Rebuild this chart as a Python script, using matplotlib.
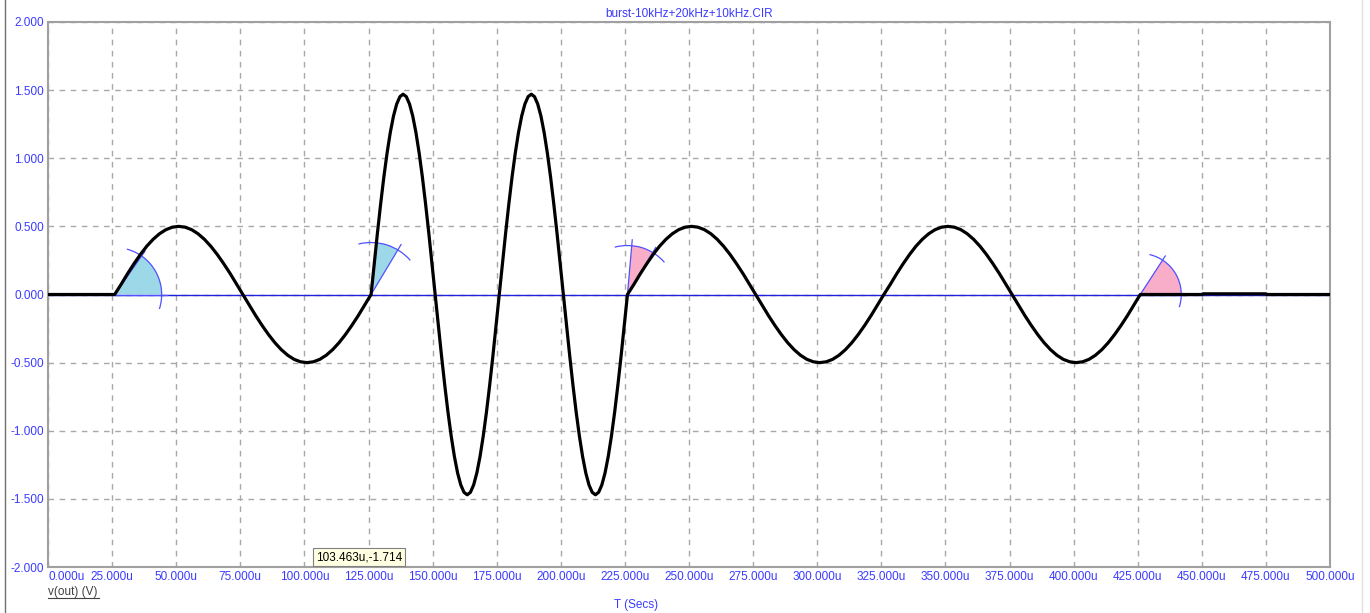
import numpy as np
import matplotlib.pyplot as plt
from matplotlib.patches import Wedge, Arc
from matplotlib.lines import Line2D
from matplotlib.transforms import ScaledTranslation

plt.rcParams['font.family'] = ['Liberation Sans', 'DejaVu Sans']

# one period of the 10kHz part (2.5u steps)
p10k = [0, 0.074, 0.152, 0.225, 0.293, 0.354, 0.405, 0.446, 0.476, 0.494,
        0.5, 0.494, 0.476, 0.446, 0.405, 0.354, 0.294, 0.227, 0.155, 0.078,
        0, -0.078, -0.155, -0.227, -0.294, -0.354, -0.405, -0.446, -0.476, -0.494,
        -0.5, -0.494, -0.476, -0.446, -0.405, -0.354, -0.294, -0.227, -0.155, -0.078]
# one period of the 20kHz part (1.25u steps)
p20k = [0, 0.230, 0.454, 0.667, 0.864, 1.039, 1.189, 1.310, 1.398, 1.452,
        1.47, 1.452, 1.398, 1.310, 1.189, 1.039, 0.864, 0.667, 0.454, 0.230,
        0, -0.230, -0.454, -0.667, -0.864, -1.039, -1.189, -1.310, -1.398, -1.452,
        -1.47, -1.452, -1.398, -1.310, -1.189, -1.039, -0.864, -0.667, -0.454, -0.230]
tail_t = [426, 450, 450.5, 475, 475.5, 500]
tail_v = [0, 0, 0.005, 0.005, 0, 0]

# angle markers: time (u), start/end angle (deg), radius (in), fill colour
mark_t = [26, 126, 226, 426]
mark_a1 = [0, 59, 59, 0]
mark_a2 = [55, 84, 85, 57]
mark_r = [0.47, 0.52, 0.49, 0.41]
mark_c = ['#9dd8e8', '#9dd8e8', '#f8aec8', '#f8aec8']

t = np.concatenate([[0],
                    26 + 2.5 * np.arange(40),
                    126 + 1.25 * np.arange(80),
                    226 + 2.5 * np.arange(80),
                    tail_t])
v = np.concatenate([[0], p10k, p20k + p20k, p10k + p10k, tail_v])

fig = plt.figure(figsize=(13.7, 6.13), dpi=100)
ax = fig.add_axes([48 / 1370, 1 - 567 / 613, 1282 / 1370, 545 / 613])

blue = '#3a3aff'
ax.axhline(0, color='#2020e0', lw=1, zorder=2)
ax.plot(t, v, color='black', lw=2.3, zorder=4, solid_joinstyle='round')

for tm, a1, a2, r, c in zip(mark_t, mark_a1, mark_a2, mark_r, mark_c):
    tr = fig.dpi_scale_trans + ScaledTranslation(tm, 0, ax.transData)
    ax.add_patch(Wedge((0, 0), r, a1, a2, transform=tr, facecolor=c,
                       edgecolor='none', zorder=3))
    ax.add_patch(Arc((0, 0), 2 * r, 2 * r, theta1=min(a1, a2) - 18,
                     theta2=max(a1, a2) + 20, transform=tr, color='#5050ff',
                     lw=0.9, zorder=3))
    for a in (a1, a2):
        ang = np.deg2rad(a)
        ax.add_line(Line2D([0, 1.12 * r * np.cos(ang)], [0, 1.12 * r * np.sin(ang)],
                           transform=tr, color='#5050ff', lw=0.9, zorder=3))

ax.set_xlim(0, 500)
ax.set_ylim(-2, 2)
xt = np.arange(0, 501, 25)
ax.set_xticks(xt)
ax.set_xticklabels([f'{x:.3f}u' for x in xt])
ax.set_yticks(np.arange(-2, 2.01, 0.5))
ax.set_yticklabels([f'{y:.3f}' for y in np.arange(-2, 2.01, 0.5)])
ax.tick_params(length=0, labelsize=8.5, labelcolor=blue, pad=3)
ax.get_xticklabels()[0].set_horizontalalignment('left')
ax.grid(True, color='#a8a8a8', ls=(0, (4, 4)), lw=1)
for s in ax.spines.values():
    s.set_color('#a0a0a0')
    s.set_linewidth(1.5)

fig.text(689 / 1370, 1 - 14 / 613, 'burst-10kHz+20kHz+10kHz.CIR', color=blue,
         fontsize=8.5, ha='center', va='center')
fig.text(636 / 1370, 1 - 605 / 613, 'T (Secs)', color=blue, fontsize=8.5,
         ha='center', va='center')
fig.text(48 / 1370, 1 - 592 / 613, 'v(out) (V)', color='#404040', fontsize=8.5,
         ha='left', va='center')
fig.add_artist(Line2D([48 / 1370, 99 / 1370], [1 - 598 / 613] * 2, color='#404040', lw=0.8))
fig.text(316 / 1370, 1 - 557 / 613, '103.463u,-1.714', color='black', fontsize=8.5,
         ha='left', va='center',
         bbox=dict(boxstyle='square,pad=0.25', fc='#ffffe1', ec='#808080', lw=0.8))

fig.add_artist(Line2D([5 / 1370] * 2, [0, 1], color='#707070', lw=1))
fig.add_artist(Line2D([1362 / 1370] * 2, [0, 1], color='#e0e0e0', lw=1))

fig.savefig('out.png', dpi=100)
